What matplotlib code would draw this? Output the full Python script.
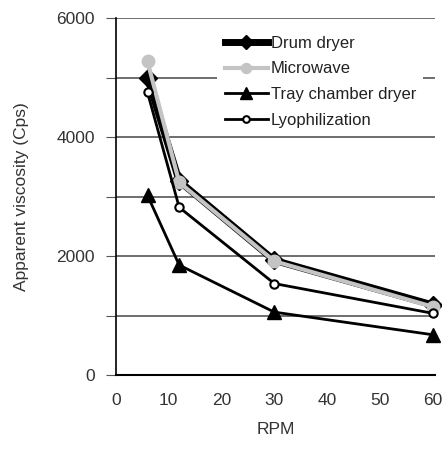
import numpy as np
import matplotlib.pyplot as plt

plt.rcParams['font.family'] = ['Liberation Sans', 'DejaVu Sans']

# data
rpm = [6, 12, 30, 60]
drum = [5000, 3260, 1930, 1180]
microwave = [5270, 3240, 1915, 1150]
tray = [3020, 1850, 1060, 680]
lyo = [4750, 2820, 1540, 1040]

fig = plt.figure(figsize=(4.42, 4.51), dpi=100)
ax = fig.add_axes([0.262, 0.168, 0.722, 0.792])

ax.plot(rpm, drum, color='black', lw=5, marker='D', ms=9, label='Drum dryer', clip_on=False, zorder=3)
ax.plot(rpm, microwave, color='#c4c4c4', lw=3, marker='o', ms=9, label='Microwave', clip_on=False, zorder=4)
ax.plot(rpm, tray, color='black', lw=2, marker='^', ms=10, label='Tray chamber dryer', clip_on=False, zorder=3)
ax.plot(rpm, lyo, color='black', lw=2, marker='o', ms=6, mfc='white', mec='black', mew=1.5,
        label='Lyophilization', clip_on=False, zorder=5)

ax.set_xlim(0, 60.4)
ax.set_ylim(0, 6000)
ax.set_xticks([0, 10, 20, 30, 40, 50, 60])
ax.set_yticks(np.arange(0, 6001, 1000))
ax.set_yticklabels(['0', '', '2000', '', '4000', '', '6000'])
ax.yaxis.grid(True, color='#555555', lw=1.2)
ax.set_axisbelow(True)

for s in ['top', 'right']:
    ax.spines[s].set_visible(False)
ax.spines['left'].set_color('black')
ax.spines['bottom'].set_color('black')
ax.spines['left'].set_linewidth(1.2)
ax.spines['bottom'].set_linewidth(1.5)

ax.tick_params(axis='y', length=7, color='#555555', labelsize=12.5, labelcolor='#333333', pad=8)
ax.tick_params(axis='x', length=0, labelsize=12.5, labelcolor='#333333', pad=13)

ax.set_xlabel('RPM', fontsize=12.5, color='#333333', labelpad=10)
ax.set_ylabel('Apparent viscosity (Cps)', fontsize=12.5, color='#333333', labelpad=20)

leg = ax.legend(loc='upper right', bbox_to_anchor=(0.99, 0.995), frameon=True, fontsize=12,
                handlelength=2.6, handletextpad=0.15, labelspacing=0.65, borderpad=0.45,
                markerscale=0.8)
leg.get_frame().set_facecolor('white')
leg.get_frame().set_edgecolor('none')
leg.get_frame().set_alpha(1)
for t in leg.get_texts():
    t.set_color('#222222')

fig.savefig('out.png', dpi=100)
